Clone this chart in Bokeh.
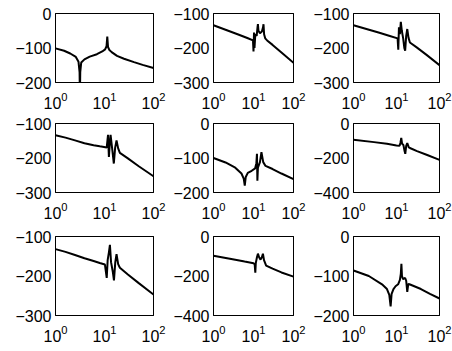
from bokeh.plotting import figure
from bokeh.layouts import column, row
from bokeh.models import Range1d, FixedTicker, LinearAxis, LogAxis
from bokeh.embed import file_html
from bokeh.resources import INLINE

# ---- data (frequency, magnitude dB) ----
freq_11 = [1, 1.5, 2.0, 2.6, 2.95, 3.1, 3.15, 3.2, 3.35, 3.9, 5.0, 7.0, 9.0, 10.3, 11.0, 11.4, 11.8, 12.6, 14.0, 18.0, 25.0, 40.0, 60.0, 100]
mag_11 = [-101, -108, -116, -126, -140, -170, -240, -170, -142, -133, -125, -118, -110, -104, -95, -67, -97, -106, -112, -123, -131, -141, -149, -158]

freq_12 = [1, 2, 4, 7, 9.7, 10.0, 10.3, 10.6, 11.1, 12.0, 12.6, 12.9, 13.3, 14.5, 16.2, 17.3, 17.8, 18.4, 19.6, 21.9, 30, 50, 100]
mag_12 = [-134, -147, -160, -171, -178, -210, -155, -200, -160, -165, -140, -131, -150, -157, -152, -140, -131, -160, -172, -178, -191, -213, -243]

freq_13 = [1, 2, 4, 7, 10.6, 11.0, 11.4, 12.0, 12.6, 13.3, 14.3, 15.2, 15.9, 16.8, 17.8, 19.0, 20.5, 30, 50, 100]
mag_13 = [-134, -145, -156, -165, -172, -205, -140, -160, -124, -150, -172, -200, -208, -165, -145, -170, -184, -199, -220, -250]

freq_21 = [1, 1.6, 2.5, 3.9, 6, 8, 9.8, 11.1, 11.8, 12.3, 12.8, 13.3, 14.4, 15.5, 16.5, 17.6, 19, 20.6, 30, 50, 100]
mag_21 = [-134, -141, -149, -157, -163, -166, -168, -170, -133, -197, -160, -133, -175, -216, -170, -149, -172, -185, -201, -224, -253]

freq_22 = [1, 2, 3.5, 5.0, 5.7, 6.05, 6.4, 7.2, 9, 11, 11.8, 12.2, 12.5, 12.9, 14.5, 15.8, 17.5, 20, 30, 50, 100]
mag_22 = [-100, -113, -128, -145, -160, -180, -155, -143, -137, -130, -115, -88, -166, -128, -112, -83, -112, -123, -132, -145, -161]

freq_23 = [1, 3, 6, 10, 11.8, 12.4, 12.9, 13.5, 14.5, 15.4, 16.0, 16.8, 17.8, 19.3, 20.5, 30, 50, 100]
mag_23 = [-94, -108, -118, -127, -129, -110, -84, -118, -125, -160, -176, -130, -113, -138, -142, -160, -181, -211]

freq_31 = [1, 1.6, 2.5, 3.9, 6, 8, 10.2, 11.1, 11.6, 12.3, 12.9, 13.6, 14.8, 15.6, 16.6, 17.6, 19, 20.6, 30, 50, 100]
mag_31 = [-132, -139, -147, -155, -162, -167, -171, -205, -160, -140, -121, -165, -190, -211, -165, -145, -170, -179, -196, -218, -247]

freq_32 = [1, 3, 6, 10, 10.7, 11.1, 11.4, 12.2, 12.9, 13.8, 15.0, 16.2, 17.2, 18.3, 20.7, 30, 50, 100]
mag_32 = [-97, -115, -127, -135, -140, -183, -135, -105, -87, -105, -117, -105, -87, -120, -147, -163, -182, -203]

freq_33 = [1, 2.27, 4.6, 6.0, 6.8, 7.3, 7.7, 8.5, 9.5, 10.9, 12.0, 12.6, 13.0, 13.4, 14.2, 15.9, 16.8, 17.8, 18.8, 20, 37, 60, 100]
mag_33 = [-86, -100, -121, -133, -148, -177, -145, -133, -126, -121, -110, -95, -69, -100, -108, -105, -112, -140, -120, -121, -133, -145, -157]

y_ranges = [(-200, 0), (-300, -100), (-300, -100),
            (-300, -100), (-200, 0), (-400, 0),
            (-300, -100), (-400, 0), (-200, 0)]
x_ticks = [1, 10, 100]

series = [(freq_11, mag_11), (freq_12, mag_12), (freq_13, mag_13),
          (freq_21, mag_21), (freq_22, mag_22), (freq_23, mag_23),
          (freq_31, mag_31), (freq_32, mag_32), (freq_33, mag_33)]

# ---- layout (pixels) ----
col_left = [55, 42, 42]
col_frame = [98, 81, 87]
col_right = [17, 17, 13]
row_top = [13, 7, 7]
row_frame = [69, 69, 79]
row_bottom = [34, 37, 36]

FONT = "Liberation Sans"
FS = "16px"


def fmt(t):
    return "\u2212" + str(-t) if t < 0 else str(t)


rows = []
for r in range(3):
    figs = []
    for c in range(3):
        i = r * 3 + c
        y0, y1 = y_ranges[i]
        p = figure(width=col_left[c] + col_frame[c] + col_right[c],
                   height=row_top[r] + row_frame[r] + row_bottom[r],
                   x_axis_type="log",
                   x_range=Range1d(1, 100), y_range=Range1d(y0, y1),
                   output_backend="svg", toolbar_location=None,
                   min_border_left=col_left[c], min_border_right=col_right[c],
                   min_border_top=row_top[r], min_border_bottom=row_bottom[r])
        p.background_fill_color = "white"
        p.border_fill_color = "white"
        p.outline_line_color = "black"
        p.outline_line_width = 1
        p.xgrid.visible = False
        p.ygrid.visible = False
        xax = p.below[0]
        yax = p.left[0]
        yt = [y0, (y0 + y1) // 2, y1]
        yax.ticker = FixedTicker(ticks=yt, minor_ticks=[])
        yax.major_label_overrides = {t: fmt(t) for t in yt}
        xax.ticker = FixedTicker(ticks=x_ticks, minor_ticks=[])
        for ax in (xax, yax):
            ax.axis_line_color = "black"
            ax.major_tick_in = 0
            ax.major_tick_out = 0
            ax.minor_tick_line_color = None
            ax.major_label_text_font = FONT
            ax.major_label_text_font_size = FS
            ax.major_label_text_color = "black"
        yax.major_label_standoff = 4
        xax.major_label_standoff = 9
        # box edges on top and right
        top_ax = LogAxis(ticker=FixedTicker(ticks=[], minor_ticks=[]))
        right_ax = LinearAxis(ticker=FixedTicker(ticks=[], minor_ticks=[]))
        for ax in (top_ax, right_ax):
            ax.axis_line_color = "black"
            ax.major_tick_in = 0
            ax.major_tick_out = 0
            ax.minor_tick_line_color = None
            ax.major_label_text_font_size = "0px"
            ax.major_label_standoff = 0
        p.add_layout(top_ax, "above")
        p.add_layout(right_ax, "right")
        f, m = series[i]
        p.line(f, m, line_color="black", line_width=2)
        figs.append(p)
    rows.append(row(*figs))

layout = column(*rows)
open("out.html", "w").write(file_html(layout, INLINE))
